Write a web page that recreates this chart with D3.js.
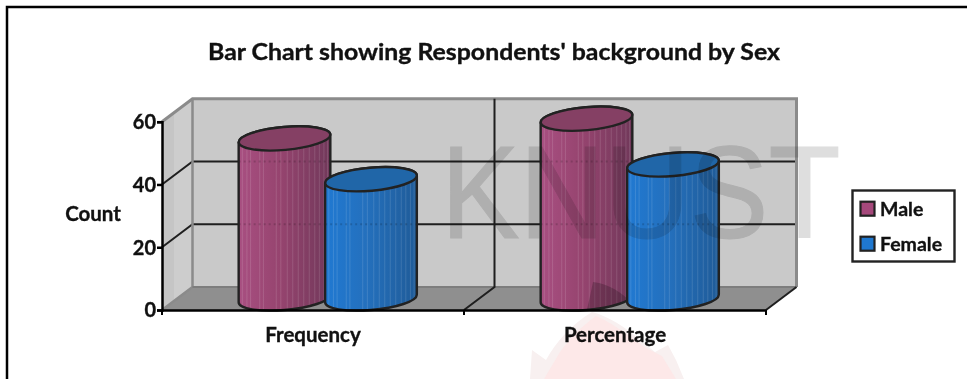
<!DOCTYPE html>
<html>
<head>
<meta charset="utf-8">
<script src="https://cdn.jsdelivr.net/npm/d3@7/dist/d3.min.js"></script>
<style>
  html, body { margin: 0; padding: 0; background: #fff; overflow: hidden; }
  svg { display: block; }
  text { font-family: Lato, "Open Sans", sans-serif; font-weight: 700; fill: #111; stroke: #111; stroke-width: 0.35px; }
</style>
</head>
<body>
<svg id="chart" width="967" height="379"></svg>
<script>
// Chart content
const titleText = "Bar Chart showing Respondents' background by Sex";
const yAxisLabel = "Count";
const categories = ["Frequency", "Percentage"];
const seriesNames = ["Male", "Female"];
const maleValues = [51, 57.3];
const femaleValues = [38, 42.7];
const yTicks = [0, 20, 40, 60];
const watermarkText = "KNUST";

// Decorative vertical sheen positions on the cylinder body, as fractions of its width
const sheenStops = [0.04, 0.09, 0.13, 0.23, 0.27, 0.41, 0.46, 0.53, 0.59, 0.65, 0.71, 0.77, 0.83, 0.88, 0.93, 0.97];

const palette = {
  Male:   { left: "#a84f81", mid: "#96446f", right: "#71385a", top: "#854064", swatch: "#a5487b" },
  Female: { left: "#2079d2", mid: "#2470bd", right: "#1f5b98", top: "#2066a8", swatch: "#1f78d0" }
};

const svg = d3.select("#chart");
const defs = svg.append("defs");

// Plot geometry: front plane of the 3D box plus the depth offset to the back wall
const plot = { left: 162, right: 766, top: 121.7, bottom: 310, dx: 30.5, dy: -23 };
const x = d3.scaleBand().domain(categories).range([plot.left, plot.right]);
const y = d3.scaleLinear().domain([0, 60]).range([plot.bottom, plot.top]);
const inner = d3.scaleBand().domain(seriesNames).range([-87, 86]);

const ink = "#1f1f1f";
const edge = "#8b8b8b";

// Outer frame: left and top rules only
svg.append("path")
  .attr("d", "M7,379V7H967")
  .attr("fill", "none").attr("stroke", "#000").attr("stroke-width", 2.5);

// Title
svg.append("text")
  .attr("x", 494).attr("y", 60)
  .attr("text-anchor", "middle")
  .attr("font-size", 22.5)
  .attr("textLength", 572).attr("lengthAdjust", "spacingAndGlyphs")
  .text(titleText);

// 3D box: side wall, back wall, floor
const box = svg.append("g");
const yTop = y(60), yBot = y(0);
const L = plot.left, R = plot.right, dx = plot.dx, dy = plot.dy;

box.append("polygon").attr("fill", "#c5c5c5")
  .attr("points", [[L, yBot], [L + dx, yBot + dy], [L + dx, yTop + dy], [L, yTop]].join(" "));
box.append("polygon").attr("fill", "#cdcdcd")
  .attr("points", [[L + 12, yBot - 9], [L + dx, yBot + dy], [L + dx, yTop + dy], [L + 12, yTop - 9]].join(" "));
box.append("rect").attr("fill", "#c9c9c9")
  .attr("x", L + dx).attr("y", yTop + dy)
  .attr("width", R - L).attr("height", yBot - yTop);
box.append("polygon").attr("fill", "#8f8f8f")
  .attr("points", [[L, yBot], [R, yBot], [R + dx, yBot + dy], [L + dx, yBot + dy]].join(" "));

// Grid lines on the side and back walls
const gridTicks = yTicks.filter(t => t > 0 && t < 60);
gridTicks.forEach(t => {
  box.append("path")
    .attr("d", `M${L},${y(t)}L${L + dx},${y(t) + dy}H${R + dx}`)
    .attr("fill", "none").attr("stroke", ink).attr("stroke-width", 2);
});

// Wall edges
box.append("path")
  .attr("d", `M${L},${yTop}L${L + dx},${yTop + dy}H${R + dx}V${yBot + dy}`)
  .attr("fill", "none").attr("stroke", edge).attr("stroke-width", 3);
box.append("path")
  .attr("d", `M${L + dx},${yTop + dy}V${yBot + dy}L${L},${yBot}`)
  .attr("fill", "none").attr("stroke", edge).attr("stroke-width", 2.5);
box.append("path")
  .attr("d", `M${L + dx},${yBot + dy}H${R + dx}`)
  .attr("fill", "none").attr("stroke", "#7d7d7d").attr("stroke-width", 2);

// Category separators running across the floor and up the back wall
const separators = [x(categories[1]), R];
separators.forEach((sx, i) => {
  box.append("path")
    .attr("d", i === 0
      ? `M${sx},${yBot}L${sx + dx},${yBot + dy}V${yTop + dy}`
      : `M${sx},${yBot}L${sx + dx},${yBot + dy}`)
    .attr("fill", "none").attr("stroke", ink).attr("stroke-width", 2);
});

// Cylinders
const rx = 46, ry = 11.5, tilt = -5;
const th = tilt * Math.PI / 180;
const t0 = Math.atan2(-ry * Math.sin(th), rx * Math.cos(th));
const extX = rx * Math.cos(t0) * Math.cos(th) - ry * Math.sin(t0) * Math.sin(th);
const extY = rx * Math.cos(t0) * Math.sin(th) + ry * Math.sin(t0) * Math.cos(th);

seriesNames.forEach(name => {
  const c = palette[name];
  const grad = defs.append("linearGradient").attr("id", "body-" + name);
  grad.append("stop").attr("offset", "0%").attr("stop-color", c.left);
  grad.append("stop").attr("offset", "45%").attr("stop-color", c.mid);
  grad.append("stop").attr("offset", "100%").attr("stop-color", c.right);
});

const bars = [];
categories.forEach((cat, i) => {
  bars.push({ name: "Male", cat, value: maleValues[i] });
  bars.push({ name: "Female", cat, value: femaleValues[i] });
});

const barLayer = svg.append("g");
bars.forEach((b, idx) => {
  const cx = x(b.cat) + x.bandwidth() / 2 + dx / 2 + inner(b.name) + inner.bandwidth() / 2;
  const baseY = y(0) + dy / 2;
  const topY = y(b.value) + dy / 2;
  const c = palette[b.name];
  const g = barLayer.append("g");
  // Side walls joined by the near half of each rim
  const bodyPath =
    `M${cx - extX},${topY - extY}` +
    `L${cx - extX},${baseY - extY}` +
    `A${rx},${ry} ${tilt} 0 0 ${cx + extX},${baseY + extY}` +
    `L${cx + extX},${topY + extY}` +
    `A${rx},${ry} ${tilt} 0 0 ${cx - extX},${topY - extY}Z`;
  const id = "clip-" + idx;
  defs.append("clipPath").attr("id", id).append("path").attr("d", bodyPath);
  g.append("path").attr("d", bodyPath).attr("fill", `url(#body-${b.name})`);
  const inside = g.append("g").attr("clip-path", `url(#${id})`);
  sheenStops.forEach(f => {
    const sx = cx - extX + f * 2 * extX;
    inside.append("line")
      .attr("x1", sx).attr("x2", sx).attr("y1", topY - 20).attr("y2", baseY + 20)
      .attr("stroke", "#fff").attr("stroke-width", 1).attr("stroke-opacity", 0.13);
  });
  // Faint dotted trace of the grid showing through the body
  gridTicks.forEach(t => {
    const gy = y(t) + dy;
    if (gy > topY) {
      inside.append("line")
        .attr("x1", cx - extX).attr("x2", cx + extX).attr("y1", gy).attr("y2", gy)
        .attr("stroke", "#000").attr("stroke-width", 2).attr("stroke-opacity", 0.16)
        .attr("stroke-dasharray", "2 3");
    }
  });
  // Tip of the crest printed over the tallest cylinder
  if (b.name === "Male" && b.cat === categories[1]) {
    inside.append("path")
      .attr("d", "M593,282C610,284 622,293 632,303V314H586L590,296Z")
      .attr("fill", "#000").attr("fill-opacity", 0.2);
  }
  g.append("path").attr("d", bodyPath)
    .attr("fill", "none").attr("stroke", "#222").attr("stroke-width", 2.4).attr("stroke-linejoin", "round");
  g.append("ellipse")
    .attr("rx", rx).attr("ry", ry)
    .attr("transform", `translate(${cx},${topY}) rotate(${tilt})`)
    .attr("fill", c.top).attr("stroke", "#222").attr("stroke-width", 2.4);
});

// Axes
const yAxis = svg.append("g")
  .attr("transform", `translate(${L},0)`)
  .call(d3.axisLeft(y).tickValues(yTicks).tickSize(5).tickPadding(1));
yAxis.attr("font-family", null);
yAxis.selectAll(".domain").attr("stroke", "#000").attr("stroke-width", 2.5);
yAxis.selectAll(".tick line").attr("stroke", "#000").attr("stroke-width", 2.5);
yAxis.selectAll("text").attr("font-size", 20).attr("dy", "0.34em");

const xAxis = svg.append("g")
  .attr("transform", `translate(0,${yBot})`)
  .call(d3.axisBottom(x).tickSize(0).tickPadding(17).tickSizeOuter(0));
xAxis.attr("font-family", null);
xAxis.selectAll(".domain").attr("stroke", "#000").attr("stroke-width", 2.5);
xAxis.selectAll("text").attr("font-size", 20.5);

// Tick marks fall on the category boundaries
xAxis.selectAll(".edge").data([L, x(categories[1]), R]).enter().append("line")
  .attr("class", "edge")
  .attr("x1", d => d).attr("x2", d => d).attr("y1", 0).attr("y2", 5)
  .attr("stroke", "#000").attr("stroke-width", 2);

svg.append("text")
  .attr("x", 93).attr("y", 221)
  .attr("text-anchor", "middle").attr("font-size", 20.5)
  .text(yAxisLabel);

// Legend
const legend = svg.append("g");
legend.append("rect")
  .attr("x", 852.5).attr("y", 190.5).attr("width", 102).attr("height", 71)
  .attr("fill", "#fff").attr("stroke", "#222").attr("stroke-width", 2.4);
const legendY = d3.scalePoint().domain(seriesNames).range([208.7, 243.7]);
seriesNames.forEach(name => {
  legend.append("rect")
    .attr("x", 860.5).attr("y", legendY(name) - 7)
    .attr("width", 14).attr("height", 14)
    .attr("fill", palette[name].swatch).attr("stroke", "#222").attr("stroke-width", 2.2);
  legend.append("text")
    .attr("x", 880).attr("y", legendY(name) + 7)
    .attr("font-size", 19.5)
    .text(name);
});

// University crest and wordmark printed across the page
const stamp = svg.append("g").style("mix-blend-mode", "multiply");
stamp.append("path")
  .attr("d", "M592,312C608,316 627,328 640,340L655,352L668,345L676,360L684,379H530L532,350L546,360C556,342 572,324 592,312Z")
  .attr("fill", "#f8f0f0");
stamp.append("path")
  .attr("d", "M596,316C616,324 640,345 650,350L662,356L676,379H544L560,352C570,338 582,326 596,316Z")
  .attr("fill", "#fde8e8");

svg.append("text")
  .attr("transform", "translate(441,238) scale(0.893,1)")
  .attr("font-size", 132)
  .style("font-family", "'Liberation Sans', sans-serif")
  .style("font-weight", 400)
  .style("fill", "#dedede")
  .style("stroke", "#dedede")
  .style("stroke-width", "1px")
  .style("mix-blend-mode", "multiply")
  .text(watermarkText);
</script>
</body>
</html>
